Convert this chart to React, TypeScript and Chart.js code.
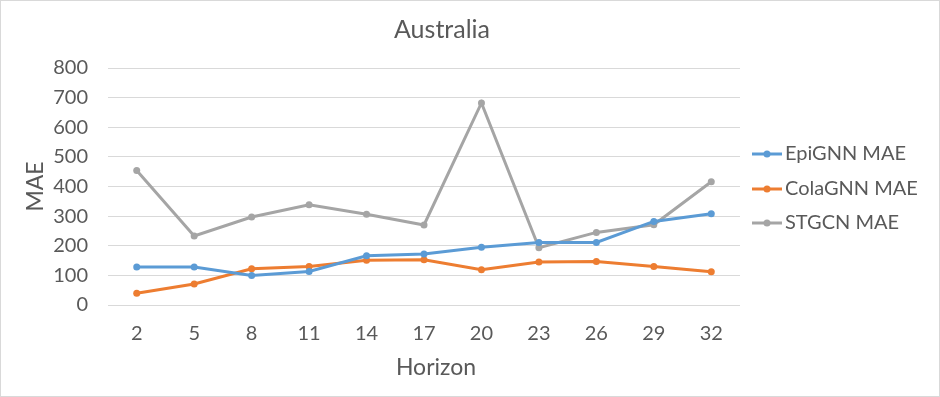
import React, { useEffect, useRef } from "react";
import { Chart, registerables } from "chart.js";

Chart.register(...registerables);

const categories = ["2", "5", "8", "11", "14", "17", "20", "23", "26", "29", "32"];
const epignnMAE = [128, 128, 100, 113, 166, 172, 195, 211, 211, 282, 308];
const colagnnMAE = [40, 71, 122, 130, 151, 153, 119, 145, 147, 130, 112];
const stgcnMAE = [454, 233, 297, 338, 306, 270, 682, 193, 245, 271, 416];
const seriesNames = ["EpiGNN MAE", "ColaGNN MAE", "STGCN MAE"];
const seriesColors = ["#5B9BD5", "#ED7D31", "#A5A5A5"];
const chartTitle = "Australia";
const xTitle = "Horizon";
const yTitle = "MAE";
const yMin = 0;
const yMax = 800;
const yStep = 100;

const TEXT = "#595959";
const FONT = "Lato, 'Open Sans', sans-serif";

const legendPlugin = {
  id: "sideLegend",
  afterDraw(chart: any) {
    const ctx = chart.ctx;
    const rows = [154, 189, 223];
    chart.data.datasets.forEach((ds: any, i: number) => {
      const y = rows[i];
      ctx.save();
      ctx.strokeStyle = ds.borderColor;
      ctx.lineWidth = 3;
      ctx.beginPath();
      ctx.moveTo(752, y);
      ctx.lineTo(782, y);
      ctx.stroke();
      ctx.fillStyle = ds.borderColor;
      ctx.beginPath();
      ctx.arc(767, y, 3.5, 0, Math.PI * 2);
      ctx.fill();
      ctx.fillStyle = TEXT;
      ctx.font = `20px ${FONT}`;
      ctx.textBaseline = "middle";
      ctx.textAlign = "left";
      ctx.fillText(ds.label, 785, y);
      ctx.restore();
    });
    ctx.save();
    ctx.fillStyle = TEXT;
    ctx.textBaseline = "middle";
    ctx.textAlign = "center";
    ctx.font = `25px ${FONT}`;
    ctx.fillText(chartTitle, 442, 30);
    ctx.font = `23px ${FONT}`;
    ctx.fillText(xTitle, 436, 368);
    ctx.restore();
  },
};

export default function App() {
  const ref = useRef<HTMLCanvasElement>(null);
  useEffect(() => {
    document.body.style.margin = "0";
    const data = [epignnMAE, colagnnMAE, stgcnMAE];
    const chart = new Chart(ref.current!, {
      type: "line",
      data: {
        labels: categories,
        datasets: seriesNames.map((name, i) => ({
          label: name,
          data: data[i],
          borderColor: seriesColors[i],
          backgroundColor: seriesColors[i],
          borderWidth: 3,
          pointRadius: 3.5,
          pointBorderWidth: 0,
          pointBackgroundColor: seriesColors[i],
          tension: 0,
          fill: false,
        })),
      },
      options: {
        responsive: false,
        animation: false,
        layout: { padding: { left: 0, right: 200, top: 68, bottom: 0 } },
        plugins: {
          legend: { display: false },
          tooltip: { enabled: false },
          title: { display: false },
        },
        scales: {
          x: {
            type: "category",
            offset: true,
            grid: { display: false, drawTicks: false },
            border: { display: false },
            ticks: {
              color: TEXT,
              font: { family: FONT, size: 20 },
              padding: 17,
              maxRotation: 0,
              autoSkip: false,
            },
            title: { display: false },
            afterFit: (s: any) => {
              s.height = 92;
            },
          },
          y: {
            min: yMin,
            max: yMax,
            grid: { color: "#D9D9D9", lineWidth: 1, drawTicks: false },
            border: { display: false },
            ticks: {
              stepSize: yStep,
              color: TEXT,
              font: { family: FONT, size: 20 },
              padding: 20,
            },
            title: {
              display: true,
              text: yTitle,
              color: TEXT,
              font: { family: FONT, size: 23 },
              padding: { top: 22, bottom: 0 },
            },
            afterFit: (s: any) => {
              s.width = 108;
            },
          },
        },
      },
      plugins: [legendPlugin],
    });
    return () => chart.destroy();
  }, []);
  return (
    <div style={{ position: "relative", width: 940, height: 397, background: "#fff" }}>
      <canvas ref={ref} width={940} height={397} style={{ display: "block" }} />
      <div
        style={{
          position: "absolute",
          left: 0,
          top: 0,
          width: 940,
          height: 397,
          boxSizing: "border-box",
          border: "1px solid #D9D9D9",
          pointerEvents: "none",
        }}
      />
    </div>
  );
}
